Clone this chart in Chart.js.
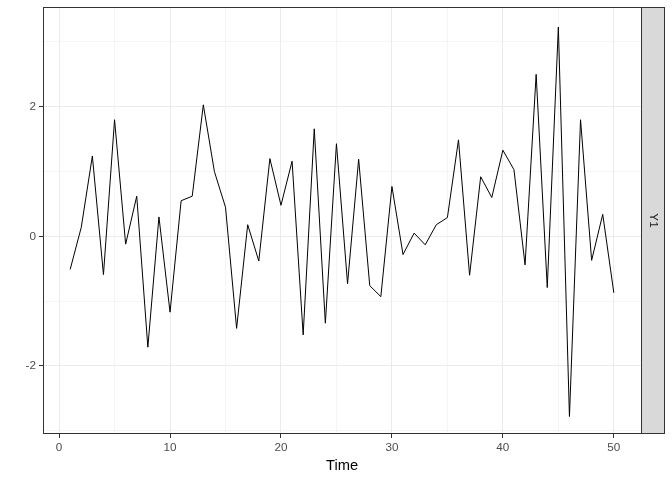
<!DOCTYPE html>
<html>
<head>
<meta charset="utf-8">
<script src="https://cdn.jsdelivr.net/npm/chart.js@4/dist/chart.umd.min.js"></script>
<style>
  html, body { margin: 0; padding: 0; background: #fff; }
  #wrap { width: 672px; height: 480px; }
</style>
</head>
<body>
<div id="wrap"><canvas id="tsChart"></canvas></div>
<script>
const time = [1, 2, 3, 4, 5, 6, 7, 8, 9, 10, 11, 12, 13, 14, 15, 16, 17, 18, 19, 20,
    21, 22, 23, 24, 25, 26, 27, 28, 29, 30, 31, 32, 33, 34, 35, 36, 37, 38, 39, 40,
    41, 42, 43, 44, 45, 46, 47, 48, 49, 50];
const y1 = [-0.51, 0.14, 1.24, -0.59, 1.80, -0.12, 0.62, -1.71, 0.30, -1.17,
    0.55, 0.62, 2.03, 1.00, 0.45, -1.42, 0.18, -0.38, 1.20, 0.48,
    1.16, -1.52, 1.66, -1.34, 1.43, -0.73, 1.19, -0.76, -0.93, 0.77,
    -0.28, 0.05, -0.13, 0.18, 0.29, 1.49, -0.60, 0.92, 0.60, 1.33,
    1.03, -0.44, 2.50, -0.79, 3.23, -2.78, 1.80, -0.37, 0.34, -0.87];
const xTicks = [0, 5, 10, 15, 20, 25, 30, 35, 40, 45, 50];
const xLabels = [0, 10, 20, 30, 40, 50];
const yTicks = [-3, -2, -1, 0, 1, 2, 3];
const yLabels = [-2, 0, 2];
const stripLabel = 'Y1';

const FONT = "'Liberation Sans', Arial, sans-serif";

// facet strip on the right + panel border, like theme_bw
const stripPlugin = {
    id: 'strip',
    afterDraw(chart) {
        const { ctx, chartArea: a } = chart;
        const l = Math.round(a.left), r = Math.round(a.right);
        const t = Math.round(a.top), b = Math.round(a.bottom);
        ctx.save();
        ctx.fillStyle = '#D9D9D9';
        ctx.fillRect(r, t, 23, b - t);
        ctx.strokeStyle = '#333333';
        ctx.lineWidth = 1;
        ctx.strokeRect(r + 0.5, t + 0.5, 23, b - t - 1);
        ctx.strokeRect(l + 0.5, t + 0.5, r - l, b - t - 1);
        ctx.translate(r + 12, (t + b) / 2);
        ctx.rotate(Math.PI / 2);
        ctx.fillStyle = '#1A1A1A';
        ctx.font = '11.7px ' + FONT;
        ctx.textAlign = 'center';
        ctx.textBaseline = 'middle';
        ctx.fillText(stripLabel, 0, 0);
        ctx.restore();
    }
};

new Chart(document.getElementById('tsChart'), {
    type: 'line',
    data: {
        datasets: [{
            data: time.map((t, i) => ({ x: t, y: y1[i] })),
            borderColor: '#000000',
            borderWidth: 1,
            pointRadius: 0,
            tension: 0,
            fill: false
        }]
    },
    options: {
        responsive: true,
        maintainAspectRatio: false,
        animation: false,
        layout: { padding: { left: 0, right: 31, top: 7, bottom: 0 } },
        plugins: {
            legend: { display: false },
            tooltip: { enabled: false }
        },
        scales: {
            x: {
                type: 'linear',
                min: -1.45,
                max: 52.45,
                afterBuildTicks: s => { s.ticks = xTicks.map(v => ({ value: v })); },
                afterFit: s => { s.height = 46; s.paddingLeft = 0; s.paddingRight = 0; },
                border: { display: false },
                grid: {
                    color: '#EBEBEB',
                    lineWidth: c => xLabels.includes(c.tick.value) ? 1 : 0.5,
                    tickColor: c => xLabels.includes(c.tick.value) ? '#333333' : 'rgba(0,0,0,0)',
                    tickLength: 4
                },
                ticks: {
                    autoSkip: false,
                    maxRotation: 0,
                    padding: 3,
                    color: '#4D4D4D',
                    font: { family: FONT, size: 11.7 },
                    callback: v => xLabels.includes(v) ? String(v) : ''
                },
                title: {
                    display: true,
                    text: 'Time',
                    color: '#000000',
                    font: { family: FONT, size: 14.7 },
                    padding: { top: 0, bottom: 5 }
                }
            },
            y: {
                min: -3.05,
                max: 3.54,
                afterBuildTicks: s => { s.ticks = yTicks.map(v => ({ value: v })); },
                afterFit: s => { s.width = 43; s.paddingTop = 0; s.paddingBottom = 0; },
                border: { display: false },
                grid: {
                    color: '#EBEBEB',
                    lineWidth: c => yLabels.includes(c.tick.value) ? 1 : 0.5,
                    tickColor: c => yLabels.includes(c.tick.value) ? '#333333' : 'rgba(0,0,0,0)',
                    tickLength: 4
                },
                ticks: {
                    autoSkip: false,
                    padding: 3,
                    color: '#4D4D4D',
                    font: { family: FONT, size: 11.7 },
                    callback: v => yLabels.includes(v) ? String(v) : ''
                }
            }
        }
    },
    plugins: [stripPlugin]
});
</script>
</body>
</html>
